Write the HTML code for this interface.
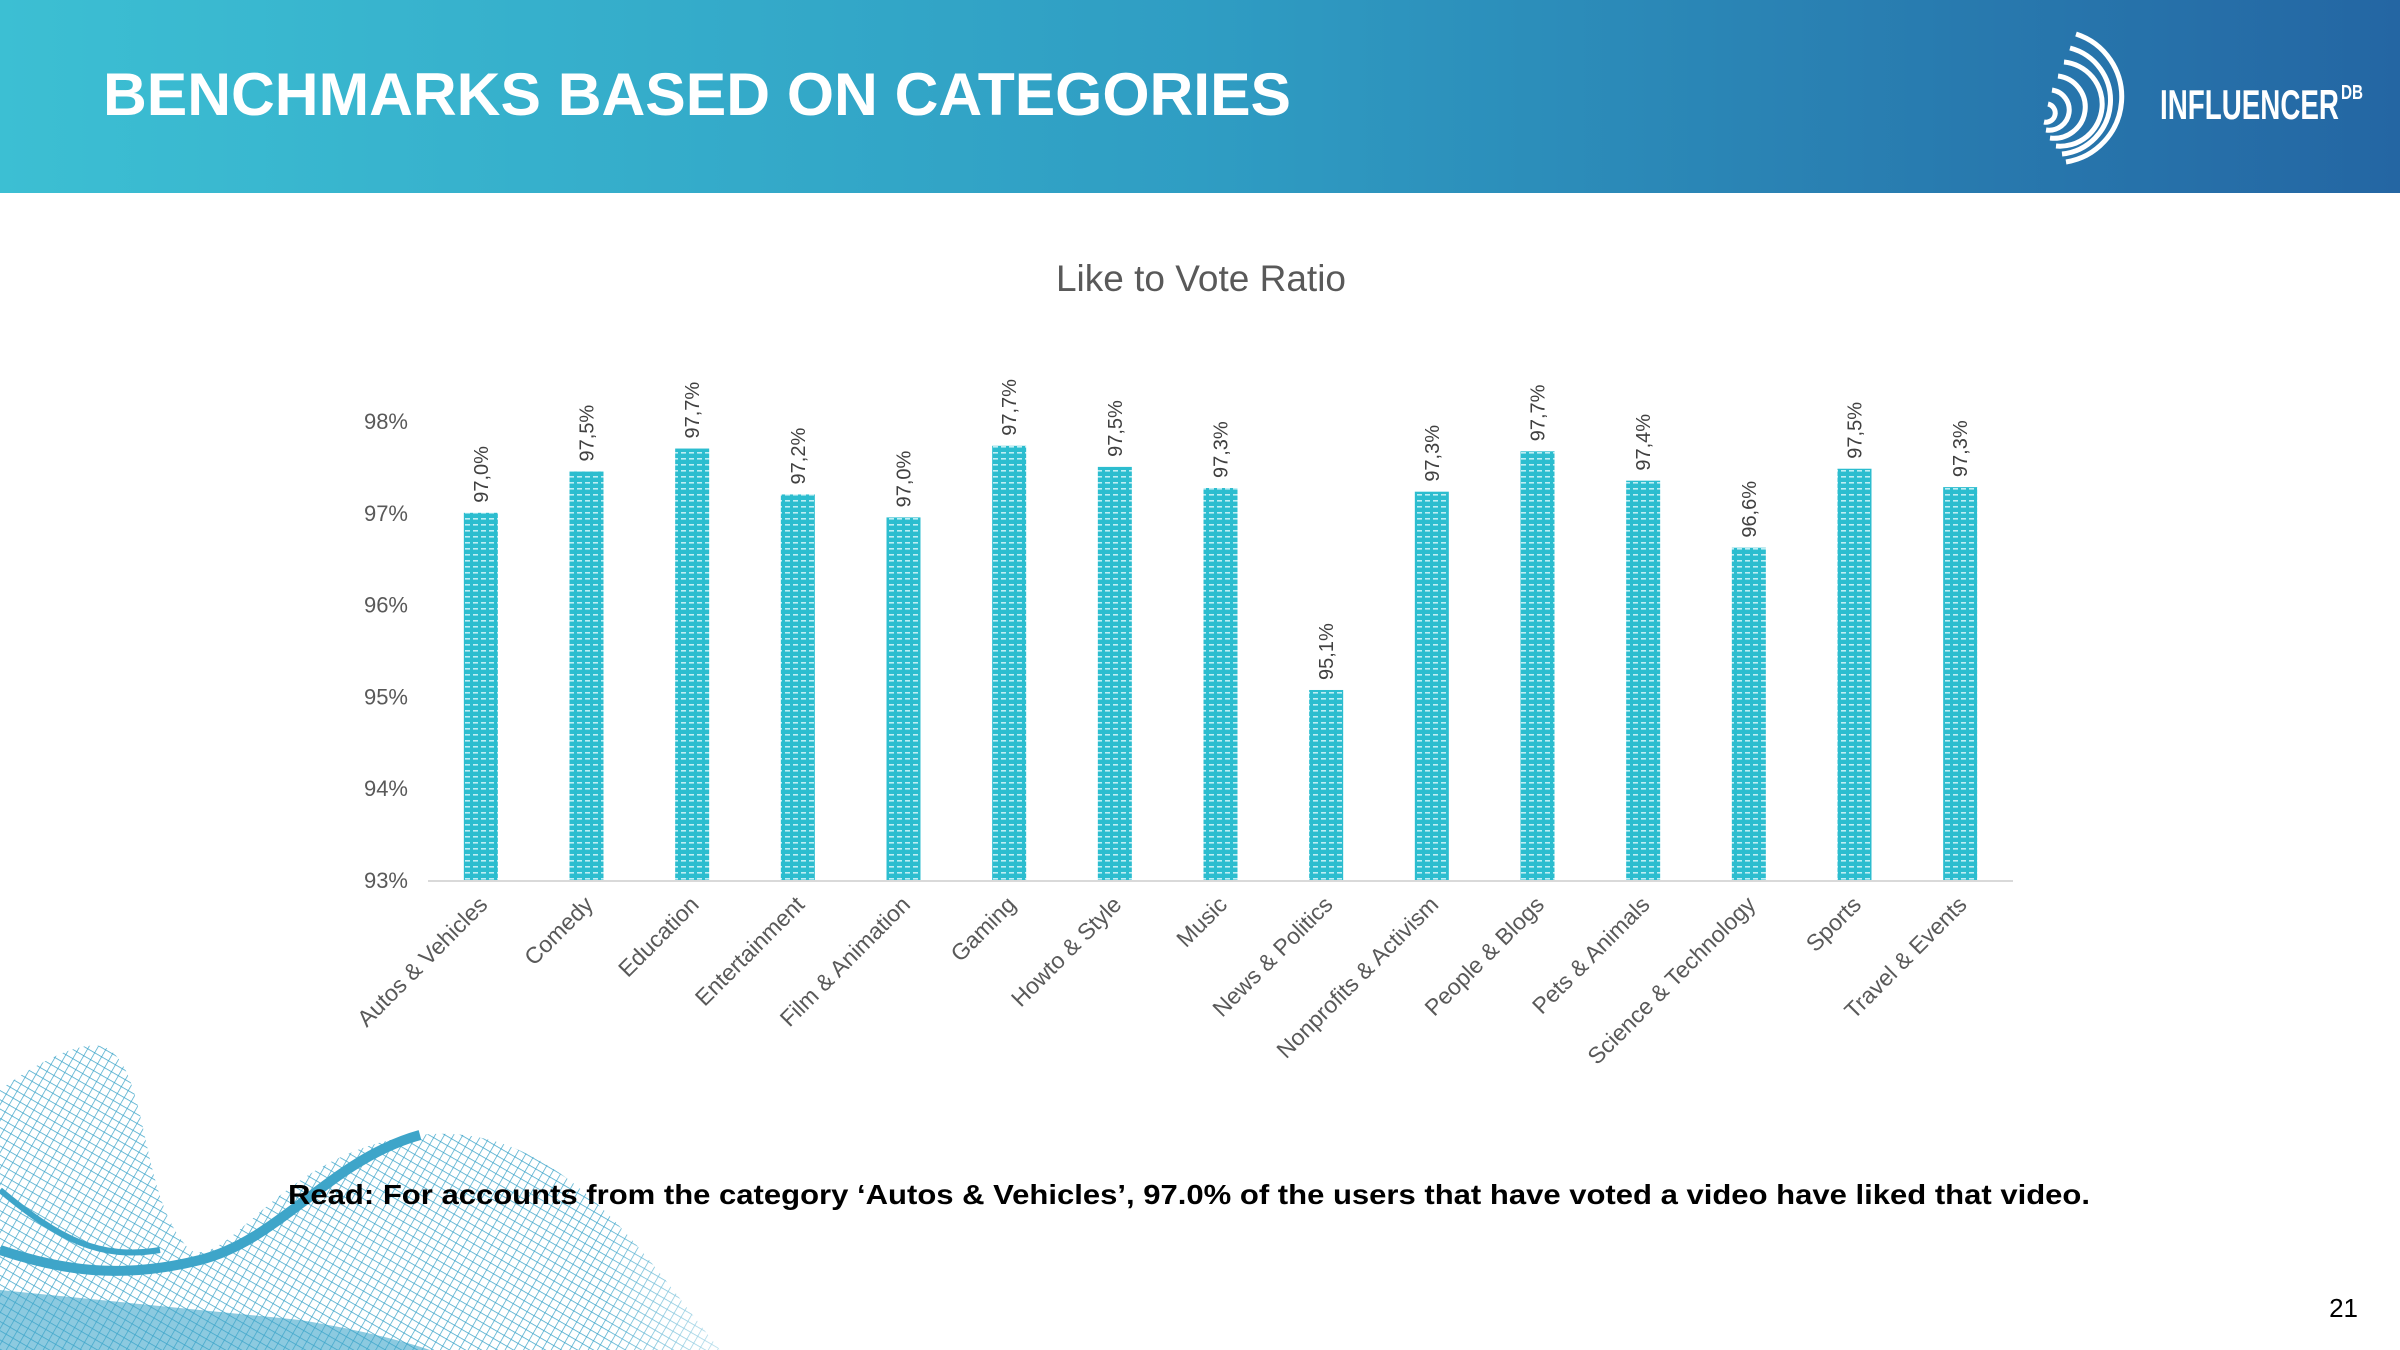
<!DOCTYPE html>
<html><head><meta charset="utf-8"><style>
html,body{margin:0;padding:0;background:#fff;}
body{width:2400px;height:1350px;position:relative;overflow:hidden;font-family:"Liberation Sans",sans-serif;}
</style></head><body>
<svg width="2400" height="1350" viewBox="0 0 2400 1350" xmlns="http://www.w3.org/2000/svg" style="position:absolute;left:0;top:0">
<defs>
<linearGradient id="hdr" x1="0" x2="1" y1="0" y2="0">
<stop offset="0" stop-color="#3cbfd3"/><stop offset="0.5" stop-color="#2f9dc3"/><stop offset="1" stop-color="#2466a3"/>
</linearGradient>
<pattern id="dash" width="8" height="6" patternUnits="userSpaceOnUse">
<rect width="8" height="6" fill="#2cbdcf"/><rect x="1" y="2" width="5" height="1.6" fill="#bfeef4"/>
</pattern>
<pattern id="mesh" width="8" height="8" patternUnits="userSpaceOnUse" patternTransform="rotate(30)">
<path d="M0 0H8M0 0V8" stroke="#2a9cc4" stroke-width="1.4" fill="none"/>
</pattern>
<linearGradient id="fade" x1="0" x2="1"><stop offset="0" stop-color="#fff" stop-opacity="1"/><stop offset="0.75" stop-color="#fff" stop-opacity="1"/><stop offset="1" stop-color="#fff" stop-opacity="0"/></linearGradient>
<mask id="fm"><rect x="0" y="1000" width="800" height="350" fill="url(#fade)"/></mask>
</defs>
<rect x="0" y="0" width="2400" height="193" fill="url(#hdr)"/>
<text x="103" y="115" fill="#fff" font-size="60" font-weight="bold" textLength="1188" lengthAdjust="spacingAndGlyphs">BENCHMARKS BASED ON CATEGORIES</text>
<g fill="none" stroke="#fff" stroke-width="5">
<path d="M2076 34 A66 66 0 0 1 2066 162"/>
<path d="M2070 48 A54 54 0 0 1 2062 154"/>
<path d="M2064 62 A42 42 0 0 1 2056 146"/>
<path d="M2058 76 A30 30 0 0 1 2050 138"/>
<path d="M2052 90 A18 18 0 0 1 2046 130"/>
<path d="M2048 104 A8 8 0 0 1 2044 122"/>
<text x="2160" y="119" fill="#fff" stroke="none" font-size="42" font-weight="bold" textLength="179" lengthAdjust="spacingAndGlyphs">INFLUENCER</text>
<text x="2341" y="99" fill="#fff" stroke="none" font-size="20" font-weight="bold" textLength="22" lengthAdjust="spacingAndGlyphs">DB</text>
</g>
<g mask="url(#fm)" opacity="0.9">
<path d="M0 1090 C40 1060 90 1035 110 1050 C150 1080 140 1200 190 1250 C230 1270 280 1150 420 1135 C560 1120 640 1250 720 1350 L0 1350 Z" fill="url(#mesh)"/>
<path d="M0 1250 C60 1270 120 1280 200 1260 C280 1240 330 1160 420 1135" fill="none" stroke="#2a9cc4" stroke-width="10"/>
<path d="M0 1290 C100 1300 200 1310 300 1320 C360 1330 400 1340 430 1350 L0 1350 Z" fill="#2a9cc4" opacity="0.6"/>
<path d="M0 1190 C60 1240 100 1260 160 1250" fill="none" stroke="#2a9cc4" stroke-width="6"/>
</g>
<text x="1201" y="291" text-anchor="middle" fill="#595959" font-size="37">Like to Vote Ratio</text>
<g id="chart"></g>
<text x="288" y="1204" fill="#000" font-size="28" font-weight="bold" textLength="1802" lengthAdjust="spacingAndGlyphs">Read: For accounts from the category ‘Autos &amp; Vehicles’, 97.0% of the users that have voted a video have liked that video.</text>
<text x="2358" y="1317" text-anchor="end" fill="#000" font-size="26">21</text>
</svg>
<script>
const categories = ["Autos & Vehicles","Comedy","Education","Entertainment","Film & Animation","Gaming","Howto & Style","Music","News & Politics","Nonprofits & Activism","People & Blogs","Pets & Animals","Science & Technology","Sports","Travel & Events"];
const values = [97.0,97.45,97.7,97.2,96.95,97.73,97.5,97.27,95.07,97.23,97.67,97.35,96.62,97.48,97.28];
const valueLabels = ["97,0%","97,5%","97,7%","97,2%","97,0%","97,7%","97,5%","97,3%","95,1%","97,3%","97,7%","97,4%","96,6%","97,5%","97,3%"];
const yTicks = [93,94,95,96,97,98];

const NS = "http://www.w3.org/2000/svg";
const g = document.getElementById('chart');
const x0 = 428, x1 = 2013, yBase = 880, yMin = 93, yMax = 98, yTop = 421;
const band = (x1 - x0) / categories.length;
const xc = i => x0 + band * (i + 0.5);
const y = v => yBase - (v - yMin) / (yMax - yMin) * (yBase - yTop);
function mk(tag, attrs){const e=document.createElementNS(NS,tag);for(const k in attrs)e.setAttribute(k,attrs[k]);g.appendChild(e);return e;}

yTicks.forEach(t=>{
  const e = mk('text',{x:408,y:y(t)+8,'text-anchor':'end',fill:'#595959','font-size':22});
  e.textContent = t + '%';
  
  
});
const ax = mk('line',{x1:x0,x2:x1,y1:yBase+1,y2:yBase+1,stroke:'#d9d9d9','stroke-width':2});



const bw = 34;
categories.forEach((c,i)=>{
  const cx = xc(i), top = y(values[i]);
  const r = mk('rect',{x:cx-bw/2,y:top,width:bw,height:yBase-top,fill:'url(#dash)'});
  
  
  const vl = mk('text',{x:0,y:0,transform:`translate(${cx+7},${top-10}) rotate(-90)`,fill:'#404040','font-size':20});
  vl.textContent = valueLabels[i];
  
  
  const cl = mk('text',{x:0,y:0,transform:`translate(${cx+8},${yBase+26}) rotate(-45)`,'text-anchor':'end',fill:'#595959','font-size':23});
  cl.textContent = c;
  
  
});
</script>
</body></html>
